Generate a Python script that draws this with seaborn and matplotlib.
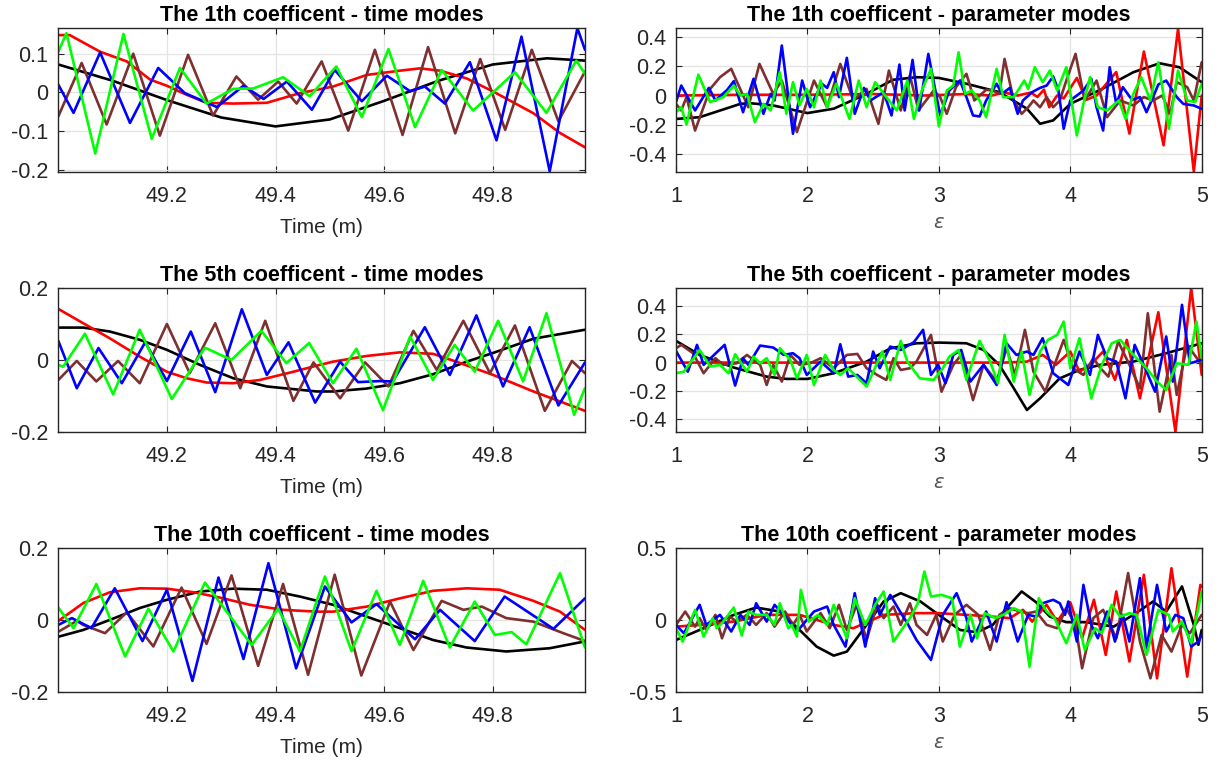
import matplotlib
matplotlib.use("Agg")
import matplotlib.pyplot as plt
import seaborn as sns
import pandas as pd
import numpy as np

# ---------------- 1th coefficient, time modes ----------------
c1t_black_x = [49.0, 49.1, 49.2, 49.3, 49.4, 49.5, 49.6, 49.7, 49.8, 49.9, 49.97]
c1t_black_y = [0.072, 0.03, -0.02, -0.065, -0.088, -0.07, -0.022, 0.03, 0.072, 0.088, 0.082]
c1t_red_x = [49.0, 49.021, 49.077, 49.126, 49.169, 49.2, 49.236, 49.273, 49.322, 49.384, 49.445,
             49.506, 49.568, 49.629, 49.666, 49.703, 49.752, 49.801, 49.875, 49.924, 49.97]
c1t_red_y = [0.148, 0.148, 0.105, 0.08, 0.033, 0.017, -0.006, -0.027, -0.029, -0.027, -0.002,
             0.015, 0.045, 0.056, 0.062, 0.056, 0.036, 0.002, -0.054, -0.105, -0.142]
c1t_blue_x = [49.0, 49.028, 49.077, 49.132, 49.184, 49.233, 49.292, 49.341, 49.378, 49.421, 49.467,
              49.509, 49.559, 49.605, 49.648, 49.675, 49.712, 49.758, 49.807, 49.853, 49.905, 49.956, 49.97]
c1t_blue_y = [0.02, -0.053, 0.103, -0.079, 0.063, -0.002, -0.038, 0.017, -0.017, 0.028, -0.045,
              0.058, -0.023, 0.043, 0.003, 0.015, -0.029, 0.078, -0.124, 0.144, -0.204, 0.166, 0.11]
c1t_brown_x = [49.0, 49.043, 49.089, 49.138, 49.187, 49.239, 49.285, 49.328, 49.368, 49.405, 49.439,
               49.485, 49.534, 49.583, 49.634, 49.681, 49.731, 49.777, 49.823, 49.872, 49.921, 49.97]
c1t_brown_y = [-0.062, 0.076, -0.083, 0.1, -0.112, 0.097, -0.06, 0.041, -0.019, 0.028, -0.029,
               0.08, -0.099, 0.11, -0.11, 0.117, -0.106, 0.086, -0.097, 0.11, -0.075, 0.054]
c1t_green_x = [49.0, 49.015, 49.068, 49.12, 49.172, 49.224, 49.273, 49.322, 49.359, 49.414, 49.463,
               49.512, 49.559, 49.608, 49.657, 49.706, 49.764, 49.841, 49.899, 49.954, 49.97]
c1t_green_y = [0.105, 0.153, -0.158, 0.151, -0.12, 0.063, -0.029, 0.009, 0.01, 0.039, -0.01,
               0.067, -0.064, 0.112, -0.09, 0.058, -0.047, 0.052, -0.053, 0.082, 0.048]

# ---------------- 1th coefficient, parameter modes ----------------
c1p_black_x = [1.0, 1.18, 1.49, 1.56, 1.74, 2.0, 2.2, 2.45, 2.65, 2.83, 3.0, 3.21, 3.46, 3.67,
               3.77, 3.87, 4.0, 4.23, 4.48, 4.68, 4.83, 5.0]
c1p_black_y = [-0.16, -0.148, -0.057, -0.052, -0.068, -0.12, -0.09, 0.011, 0.107, 0.125, 0.12, 0.08,
               0.023, -0.09, -0.193, -0.17, -0.057, 0.039, 0.159, 0.22, 0.193, 0.091]
c1p_red_x = [1.0, 1.5, 2.0, 2.5, 2.9, 3.2, 3.4, 3.5, 3.6, 3.7, 3.75, 3.8, 3.84, 3.9, 3.95,
             4.05, 4.12, 4.2, 4.35, 4.45, 4.56, 4.71, 4.82, 4.94, 5.0]
c1p_red_y = [0.0, 0.005, 0.005, 0.01, 0.0, 0.01, 0.0, 0.02, 0.0, 0.02, -0.01, 0.04, -0.08, 0.0, -0.02,
             0.12, -0.03, 0.0, 0.16, -0.26, 0.30, -0.34, 0.455, -0.52, 0.0]
c1p_blue_x = [1.0, 1.04, 1.145, 1.25, 1.30, 1.39, 1.44, 1.51, 1.59, 1.665, 1.72, 1.75, 1.805, 1.89,
              1.96, 2.02, 2.11, 2.15, 2.20, 2.24, 2.30, 2.36, 2.43, 2.48, 2.58, 2.64, 2.70, 2.74,
              2.80, 2.85, 2.87, 2.92, 3.01, 3.08, 3.16, 3.21, 3.26, 3.31, 3.36, 3.44, 3.48, 3.54,
              3.60, 3.64, 3.71, 3.77, 3.82, 3.87, 3.91, 3.95, 4.0, 4.1, 4.16, 4.2, 4.25, 4.3, 4.35,
              4.4, 4.47, 4.53, 4.58, 4.63, 4.67, 4.73, 4.81, 4.86, 4.94, 5.0]
c1p_blue_y = [-0.045, 0.068, -0.102, 0.052, -0.034, 0.039, 0.098, -0.114, 0.114, -0.125, 0.011, -0.034,
              0.341, -0.261, 0.102, -0.08, 0.08, 0.052, 0.159, -0.011, 0.257, -0.125, 0.052, -0.034,
              0.023, -0.136, 0.211, -0.102, 0.243, -0.102, 0.011, 0.284, -0.136, 0.034, 0.102,
              -0.011, -0.136, -0.143, -0.034, 0.08, 0.011, 0.052, -0.125, -0.034, 0.023, 0.052,
              0.068, 0.13, 0.034, -0.227, -0.034, 0.034, 0.114, -0.08, -0.239, 0.193, -0.057,
              0.057, -0.03, -0.011, -0.114, -0.011, 0.075, 0.102, -0.011, -0.057, -0.068, -0.091]
c1p_brown_x = [1.0, 1.04, 1.08, 1.145, 1.26, 1.335, 1.42, 1.55, 1.635, 1.74, 1.805, 1.92, 2.05, 2.15,
               2.25, 2.35, 2.43, 2.45, 2.54, 2.62, 2.71, 2.78, 2.845, 2.96, 3.01, 3.06, 3.13, 3.21,
               3.27, 3.36, 3.41, 3.46, 3.5, 3.57, 3.63, 3.68, 3.72, 3.77, 3.82, 3.87, 3.92, 3.97,
               4.04, 4.11, 4.2, 4.28, 4.38, 4.48, 4.56, 4.63, 4.7, 4.76, 4.81, 4.89, 4.94, 5.0]
c1p_brown_y = [-0.057, -0.102, -0.011, -0.239, 0.045, 0.125, 0.182, -0.08, 0.216, 0.011, 0.102, -0.25,
               0.102, -0.08, 0.216, -0.034, 0.034, 0.045, -0.193, 0.17, -0.102, 0.136, -0.102,
               0.034, -0.011, -0.125, 0.057, 0.148, -0.034, 0.039, 0.034, 0.011, 0.25, -0.034,
               -0.125, -0.08, -0.034, -0.08, -0.011, -0.08, -0.034, 0.102, 0.284, -0.034, 0.102,
               -0.148, -0.034, -0.068, -0.011, -0.034, 0.0, -0.125, 0.091, 0.057, -0.034, 0.227]
c1p_green_x = [1.0, 1.04, 1.08, 1.17, 1.26, 1.36, 1.44, 1.49, 1.54, 1.6, 1.665, 1.72, 1.79, 1.84,
               1.89, 1.94, 1.995, 2.05, 2.1, 2.15, 2.22, 2.32, 2.39, 2.45, 2.515, 2.6, 2.68, 2.76,
               2.81, 2.87, 2.94, 3.0, 3.06, 3.11, 3.15, 3.2, 3.25, 3.31, 3.36, 3.44, 3.49, 3.57,
               3.65, 3.68, 3.73, 3.79, 3.845, 3.9, 3.97, 4.05, 4.1, 4.15, 4.21, 4.28, 4.37, 4.42,
               4.48, 4.54, 4.61, 4.67, 4.75, 4.82, 4.89, 4.95, 5.0]
c1p_green_y = [-0.114, -0.08, -0.198, 0.143, -0.045, -0.011, 0.068, 0.0, 0.011, -0.182, -0.057, -0.102,
               0.159, -0.125, 0.091, -0.068, 0.045, -0.08, 0.102, -0.08, 0.08, -0.159, 0.102, -0.08,
               0.091, -0.011, -0.102, 0.102, -0.159, 0.034, 0.182, -0.211, 0.034, 0.068, 0.295,
               0.011, 0.034, -0.034, -0.148, 0.182, -0.011, -0.011, 0.102, 0.045, 0.193, 0.091,
               0.17, 0.034, 0.193, -0.273, -0.057, 0.125, -0.08, -0.102, -0.034, -0.159, 0.011,
               0.125, -0.034, 0.227, -0.227, 0.17, -0.034, -0.045, 0.08]

# ---------------- 5th coefficient, time modes ----------------
c5t_black_x = [49.0, 49.046, 49.095, 49.15, 49.2, 49.261, 49.322, 49.384, 49.476, 49.506, 49.567,
               49.629, 49.69, 49.752, 49.8, 49.875, 49.97]
c5t_black_y = [0.09, 0.09, 0.079, 0.056, 0.028, -0.014, -0.051, -0.074, -0.088, -0.088, -0.08,
               -0.065, -0.04, -0.005, 0.019, 0.059, 0.084]
c5t_red_x = [49.0, 49.046, 49.095, 49.15, 49.2, 49.236, 49.273, 49.322, 49.371, 49.433, 49.476,
             49.506, 49.568, 49.629, 49.69, 49.733, 49.801, 49.875, 49.97]
c5t_red_y = [0.142, 0.102, 0.06, 0.009, -0.033, -0.051, -0.063, -0.065, -0.056, -0.033, -0.016,
             -0.005, 0.011, 0.021, 0.017, -0.005, -0.042, -0.088, -0.142]
c5t_blue_x = [49.0, 49.034, 49.074, 49.117, 49.16, 49.2, 49.244, 49.289, 49.338, 49.384, 49.424,
              49.473, 49.519, 49.552, 49.592, 49.616, 49.675, 49.721, 49.77, 49.819, 49.868,
              49.921, 49.97]
c5t_blue_y = [0.053, -0.079, 0.033, -0.065, 0.049, -0.059, 0.079, -0.09, 0.141, -0.042, 0.049,
              -0.119, -0.005, -0.062, -0.059, -0.06, 0.091, -0.042, 0.124, -0.074, 0.091, -0.127, -0.007]
c5t_brown_x = [49.0, 49.034, 49.07, 49.11, 49.15, 49.2, 49.242, 49.289, 49.335, 49.381, 49.433,
               49.47, 49.519, 49.565, 49.608, 49.654, 49.697, 49.746, 49.795, 49.841, 49.896,
               49.946, 49.97]
c5t_brown_y = [-0.056, -0.003, -0.06, -0.003, -0.065, 0.1, -0.037, 0.102, -0.079, 0.109, -0.114,
               -0.007, -0.107, -0.007, -0.074, 0.081, -0.028, 0.109, -0.037, 0.096, -0.142, -0.003, -0.037]
c5t_green_x = [49.0, 49.009, 49.049, 49.101, 49.15, 49.209, 49.27, 49.319, 49.374, 49.42, 49.462,
               49.506, 49.549, 49.598, 49.648, 49.69, 49.73, 49.767, 49.81, 49.856, 49.899,
               49.95, 49.97]
c5t_green_y = [-0.014, -0.019, 0.073, -0.096, 0.084, -0.109, 0.034, 0.0, 0.081, -0.009, 0.047,
               -0.065, 0.031, -0.14, 0.065, -0.056, 0.042, -0.033, 0.109, -0.06, 0.13, -0.153, -0.079]

# ---------------- 5th coefficient, parameter modes ----------------
c5p_black_x = [1.0, 1.18, 1.44, 1.69, 1.84, 2.0, 2.2, 2.45, 2.63, 2.83, 3.0, 3.21, 3.34, 3.46,
               3.57, 3.67, 3.77, 3.92, 4.07, 4.23, 4.48, 4.73, 5.0]
c5p_black_y = [0.153, 0.054, -0.035, -0.099, -0.115, -0.115, -0.075, 0.007, 0.1, 0.136, 0.141, 0.136,
               0.089, -0.016, -0.181, -0.334, -0.252, -0.111, -0.052, -0.016, 0.007, 0.066, 0.136]
c5p_red_x = [1.0, 2.0, 3.0, 3.5, 3.67, 3.79, 3.89, 4.0, 4.07, 4.17, 4.25, 4.34, 4.43, 4.53, 4.67,
             4.8, 4.92, 5.0]
c5p_red_y = [0.0, 0.0, 0.0, 0.0, 0.007, 0.054, -0.016, 0.078, -0.064, 0.0, 0.078, -0.122, 0.16,
             -0.252, 0.355, -0.487, 0.525, -0.087]
c5p_blue_x = [1.0, 1.09, 1.16, 1.21, 1.37, 1.45, 1.51, 1.55, 1.64, 1.74, 1.82, 1.89, 1.94, 1.995,
              2.1, 2.2, 2.25, 2.31, 2.38, 2.45, 2.5, 2.55, 2.63, 2.71, 2.81, 2.88, 2.94, 2.995,
              3.05, 3.11, 3.17, 3.24, 3.34, 3.44, 3.515, 3.59, 3.67, 3.72, 3.79, 3.87, 3.985,
              4.07, 4.15, 4.21, 4.28, 4.35, 4.42, 4.49, 4.57, 4.645, 4.73, 4.78, 4.85, 4.91, 5.0]
c5p_blue_y = [0.082, -0.064, 0.125, -0.016, 0.125, -0.162, 0.031, -0.016, 0.12, 0.106, 0.054, 0.066,
              0.031, -0.087, 0.007, -0.075, 0.129, -0.099, -0.087, -0.146, 0.078, -0.04, 0.113,
              0.089, 0.144, 0.231, -0.087, -0.016, -0.146, 0.054, 0.089, -0.134, -0.016, -0.158,
              0.136, 0.054, 0.078, 0.054, 0.172, -0.075, -0.158, 0.078, -0.087, 0.195, 0.031,
              0.007, -0.252, 0.125, -0.04, -0.205, 0.184, -0.134, 0.407, -0.005, 0.019]
c5p_brown_x = [1.0, 1.04, 1.13, 1.21, 1.3, 1.36, 1.46, 1.54, 1.64, 1.69, 1.74, 1.805, 1.87, 1.94,
               2.02, 2.1, 2.2, 2.3, 2.38, 2.45, 2.53, 2.6, 2.655, 2.71, 2.78, 2.83, 2.94, 3.02,
               3.11, 3.17, 3.26, 3.34, 3.44, 3.515, 3.58, 3.655, 3.72, 3.81, 3.88, 3.95, 4.02,
               4.1, 4.175, 4.23, 4.29, 4.365, 4.45, 4.53, 4.59, 4.68, 4.77, 4.81, 4.89, 5.0]
c5p_brown_y = [0.101, 0.125, 0.066, -0.075, 0.031, -0.016, -0.005, 0.054, -0.016, -0.158, -0.016,
               -0.134, 0.054, -0.016, -0.005, 0.031, -0.04, 0.054, 0.061, -0.04, -0.087, -0.122,
               0.031, -0.052, -0.04, 0.007, 0.195, -0.205, -0.016, 0.054, -0.264, -0.016, -0.134,
               0.101, -0.087, 0.231, -0.064, -0.205, -0.016, 0.16, -0.04, -0.087, 0.031, -0.04,
               -0.099, 0.148, -0.016, -0.181, 0.348, -0.346, 0.054, -0.228, 0.125, -0.016]
c5p_green_x = [1.0, 1.06, 1.18, 1.26, 1.335, 1.4, 1.45, 1.54, 1.59, 1.64, 1.69, 1.75, 1.79, 1.87,
               1.92, 1.995, 2.05, 2.135, 2.2, 2.25, 2.31, 2.45, 2.57, 2.63, 2.71, 2.76, 2.855,
               2.96, 3.03, 3.08, 3.15, 3.21, 3.31, 3.39, 3.45, 3.5, 3.57, 3.63, 3.69, 3.77, 3.83,
               3.9, 3.95, 4.0, 4.07, 4.16, 4.24, 4.315, 4.38, 4.48, 4.58, 4.66, 4.73, 4.81, 4.9,
               4.96, 5.0]
c5p_green_y = [-0.075, -0.064, 0.089, -0.028, -0.016, -0.075, 0.059, -0.064, 0.042, -0.005, 0.031,
               -0.087, 0.101, 0.019, -0.111, 0.054, -0.158, 0.054, -0.052, -0.087, -0.04, -0.169,
               0.078, -0.122, 0.153, 0.007, -0.111, -0.122, -0.04, 0.042, 0.089, -0.122, 0.153,
               0.007, -0.146, 0.195, -0.134, 0.078, -0.228, 0.078, 0.16, 0.195, 0.289, -0.04,
               0.172, -0.252, -0.016, 0.136, 0.16, 0.054, -0.04, -0.134, -0.193, -0.005, -0.016,
               0.289, 0.031]

# ---------------- 10th coefficient, time modes ----------------
c10t_black_x = [49.0, 49.046, 49.095, 49.15, 49.2, 49.261, 49.322, 49.384, 49.445, 49.506, 49.568,
                49.629, 49.69, 49.752, 49.825, 49.905, 49.97]
c10t_black_y = [-0.047, -0.028, 0.0, 0.033, 0.056, 0.079, 0.087, 0.084, 0.065, 0.042, 0.009,
                -0.023, -0.056, -0.077, -0.088, -0.079, -0.06]
c10t_red_x = [49.0, 49.046, 49.095, 49.15, 49.2, 49.249, 49.298, 49.353, 49.414, 49.476, 49.506,
              49.568, 49.629, 49.69, 49.752, 49.813, 49.875, 49.924, 49.97]
c10t_red_y = [-0.003, 0.047, 0.077, 0.088, 0.087, 0.077, 0.062, 0.042, 0.028, 0.023, 0.023,
              0.037, 0.06, 0.081, 0.088, 0.084, 0.053, 0.023, -0.028]
c10t_blue_x = [49.0, 49.025, 49.061, 49.104, 49.155, 49.2, 49.247, 49.295, 49.341, 49.387, 49.438,
               49.491, 49.54, 49.586, 49.657, 49.703, 49.767, 49.822, 49.912, 49.97]
c10t_blue_y = [-0.014, 0.005, -0.023, 0.088, -0.059, 0.084, -0.17, 0.118, -0.109, 0.158, -0.135,
               0.093, -0.007, 0.044, -0.054, 0.028, -0.059, 0.065, -0.025, 0.06]
c10t_brown_x = [49.0, 49.034, 49.046, 49.086, 49.126, 49.175, 49.227, 49.273, 49.319, 49.368,
                49.414, 49.46, 49.509, 49.558, 49.611, 49.654, 49.706, 49.746, 49.78, 49.825,
                49.875, 49.93, 49.97]
c10t_brown_y = [-0.033, -0.003, -0.014, -0.037, 0.021, -0.074, 0.09, -0.067, 0.124, -0.128, 0.1,
                -0.153, 0.126, -0.155, 0.051, -0.084, 0.053, 0.028, 0.037, 0.005, -0.005, -0.037, -0.059]
c10t_green_x = [49.0, 49.028, 49.07, 49.123, 49.166, 49.212, 49.27, 49.356, 49.405, 49.445, 49.491,
                49.54, 49.586, 49.629, 49.672, 49.721, 49.767, 49.804, 49.835, 49.862, 49.924, 49.97]
c10t_green_y = [0.034, -0.023, 0.1, -0.102, 0.031, -0.088, 0.104, -0.07, 0.031, -0.088, 0.121,
                -0.087, 0.081, -0.07, 0.109, -0.077, 0.051, -0.042, -0.034, -0.068, 0.13, -0.077]

# ---------------- 10th coefficient, parameter modes ----------------
c10p_black_x = [1.0, 1.18, 1.44, 1.61, 1.79, 1.94, 2.07, 2.2, 2.3, 2.45, 2.58, 2.71, 2.86, 3.0,
                3.16, 3.29, 3.41, 3.515, 3.63, 3.74, 3.845, 3.97, 4.12, 4.33, 4.48, 4.63, 4.73,
                4.85, 4.94, 4.975, 5.0]
c10p_black_y = [-0.14, -0.07, 0.035, 0.086, 0.058, -0.07, -0.186, -0.249, -0.221, -0.035, 0.128,
                0.186, 0.128, 0.035, -0.07, -0.086, -0.035, 0.081, 0.198, 0.123, 0.023, -0.016,
                -0.016, -0.047, 0.035, 0.128, 0.058, 0.233, -0.035, -0.174, -0.07]
c10p_red_x = [1.0, 1.18, 1.44, 1.69, 1.94, 2.2, 2.35, 2.58, 2.83, 3.0, 3.21, 3.41, 3.54, 3.64,
              3.71, 3.82, 3.9, 4.0, 4.09, 4.18, 4.27, 4.35, 4.45, 4.56, 4.66, 4.77, 4.89, 4.99, 5.0]
c10p_red_y = [-0.047, -0.035, -0.012, 0.035, 0.035, -0.035, -0.058, 0.035, 0.047, 0.047, 0.035,
              0.023, 0.012, 0.07, -0.012, 0.105, -0.012, 0.123, -0.128, 0.14, -0.244, 0.198, -0.29,
              0.314, -0.407, 0.36, -0.395, 0.244, 0.23]
c10p_blue_x = [1.0, 1.06, 1.18, 1.23, 1.3, 1.335, 1.42, 1.49, 1.56, 1.61, 1.69, 1.75, 1.83, 1.92,
               2.05, 2.15, 2.2, 2.29, 2.36, 2.44, 2.515, 2.55, 2.63, 2.72, 2.76, 2.83, 2.94, 3.03,
               3.135, 3.21, 3.25, 3.36, 3.44, 3.515, 3.6, 3.68, 3.74, 3.79, 3.87, 3.92, 3.96,
               3.985, 4.05, 4.1, 4.16, 4.21, 4.28, 4.34, 4.4, 4.45, 4.53, 4.58, 4.66, 4.73, 4.8,
               4.86, 4.92, 4.975, 5.0]
c10p_blue_y = [-0.035, -0.093, 0.105, -0.035, 0.012, 0.035, -0.081, 0.035, -0.035, 0.116, -0.012,
               0.105, 0.023, -0.081, 0.058, 0.093, -0.035, -0.186, 0.186, -0.186, 0.151, 0.035,
               0.174, 0.035, -0.023, -0.14, -0.279, 0.035, 0.186, 0.012, -0.151, 0.058, -0.151,
               0.123, -0.151, 0.035, 0.023, 0.116, 0.14, 0.116, 0.035, 0.128, -0.151, 0.244,
               -0.035, -0.128, 0.058, -0.151, 0.035, -0.151, 0.291, -0.198, 0.244, -0.081, 0.035,
               0.012, -0.186, -0.151, -0.105]
c10p_brown_x = [1.0, 1.07, 1.145, 1.18, 1.23, 1.3, 1.35, 1.41, 1.46, 1.54, 1.61, 1.69, 1.75, 1.83,
                1.89, 1.94, 1.995, 2.1, 2.17, 2.24, 2.3, 2.375, 2.45, 2.53, 2.58, 2.655, 2.71,
                2.78, 2.83, 2.91, 2.98, 3.03, 3.12, 3.21, 3.3, 3.39, 3.46, 3.54, 3.62, 3.68, 3.74,
                3.82, 3.9, 3.97, 4.04, 4.09, 4.175, 4.25, 4.35, 4.44, 4.53, 4.61, 4.695, 4.77,
                4.85, 4.91, 5.0]
c10p_brown_y = [-0.035, 0.058, -0.047, 0.012, -0.07, 0.035, -0.128, 0.023, -0.012, 0.035, -0.035,
                0.047, -0.047, 0.058, -0.035, 0.035, -0.081, 0.047, -0.058, 0.105, -0.07, 0.105,
                -0.14, 0.105, 0.012, 0.093, -0.035, 0.116, -0.035, -0.105, 0.035, -0.151, 0.035,
                0.105, 0.035, -0.209, 0.035, 0.081, 0.058, 0.047, 0.058, -0.035, -0.058, 0.081,
                -0.035, -0.337, 0.012, 0.07, -0.128, 0.326, -0.151, -0.407, -0.105, -0.221,
                -0.035, -0.093, 0.035]
c10p_green_x = [1.0, 1.05, 1.145, 1.21, 1.28, 1.31, 1.35, 1.44, 1.5, 1.55, 1.61, 1.69, 1.75, 1.79,
                1.855, 1.88, 1.92, 1.95, 2.01, 2.08, 2.15, 2.2, 2.3, 2.36, 2.44, 2.515, 2.58,
                2.655, 2.76, 2.78, 2.84, 2.89, 2.94, 3.02, 3.1, 3.16, 3.24, 3.29, 3.35, 3.43,
                3.49, 3.57, 3.63, 3.69, 3.76, 3.82, 3.88, 3.97, 4.05, 4.11, 4.19, 4.24, 4.315,
                4.38, 4.45, 4.505, 4.58, 4.67, 4.75, 4.78, 4.85, 4.92, 5.0]
c10p_green_y = [-0.058, -0.151, 0.07, -0.116, 0.012, -0.058, -0.023, 0.086, -0.109, 0.058, 0.035,
                0.035, -0.035, 0.116, -0.058, -0.035, -0.116, 0.209, -0.012, 0.035, -0.035, 0.105,
                -0.128, 0.151, -0.035, 0.105, 0.198, -0.151, -0.012, 0.012, 0.116, 0.337, 0.163,
                0.174, 0.151, -0.186, 0.035, -0.128, 0.047, 0.012, 0.035, 0.081, 0.058, -0.326,
                0.151, 0.058, 0.012, -0.163, 0.035, -0.209, -0.058, -0.093, 0.105, 0.023, 0.047,
                0.035, -0.244, 0.07, 0.035, -0.081, -0.012, -0.163, 0.198]

modes = ["black", "red", "brown", "blue", "green"]
palette = {"black": "#000000", "red": "#ff0000", "brown": "#7e2f2f",
           "blue": "#0000ff", "green": "#00ff00"}


def make_frame(series):
    parts = []
    for name, (xs, ys) in series.items():
        parts.append(pd.DataFrame({"x": xs, "y": ys, "mode": name}))
    return pd.concat(parts, ignore_index=True)


panels = [
    ("The 1th coefficent - time modes", "time",
     {"black": (c1t_black_x, c1t_black_y), "red": (c1t_red_x, c1t_red_y),
      "brown": (c1t_brown_x, c1t_brown_y), "blue": (c1t_blue_x, c1t_blue_y),
      "green": (c1t_green_x, c1t_green_y)},
     (-0.205, 0.166), [-0.2, -0.1, 0, 0.1], ["-0.2", "-0.1", "0", "0.1"]),
    ("The 1th coefficent - parameter modes", "param",
     {"black": (c1p_black_x, c1p_black_y), "red": (c1p_red_x, c1p_red_y),
      "brown": (c1p_brown_x, c1p_brown_y), "blue": (c1p_blue_x, c1p_blue_y),
      "green": (c1p_green_x, c1p_green_y)},
     (-0.52, 0.46), [-0.4, -0.2, 0, 0.2, 0.4], ["-0.4", "-0.2", "0", "0.2", "0.4"]),
    ("The 5th coefficent - time modes", "time",
     {"black": (c5t_black_x, c5t_black_y), "red": (c5t_red_x, c5t_red_y),
      "brown": (c5t_brown_x, c5t_brown_y), "blue": (c5t_blue_x, c5t_blue_y),
      "green": (c5t_green_x, c5t_green_y)},
     (-0.2, 0.2), [-0.2, 0, 0.2], ["-0.2", "0", "0.2"]),
    ("The 5th coefficent - parameter modes", "param",
     {"black": (c5p_black_x, c5p_black_y), "red": (c5p_red_x, c5p_red_y),
      "brown": (c5p_brown_x, c5p_brown_y), "blue": (c5p_blue_x, c5p_blue_y),
      "green": (c5p_green_x, c5p_green_y)},
     (-0.487, 0.525), [-0.4, -0.2, 0, 0.2, 0.4], ["-0.4", "-0.2", "0", "0.2", "0.4"]),
    ("The 10th coefficent - time modes", "time",
     {"black": (c10t_black_x, c10t_black_y), "red": (c10t_red_x, c10t_red_y),
      "brown": (c10t_brown_x, c10t_brown_y), "blue": (c10t_blue_x, c10t_blue_y),
      "green": (c10t_green_x, c10t_green_y)},
     (-0.2, 0.2), [-0.2, 0, 0.2], ["-0.2", "0", "0.2"]),
    ("The 10th coefficent - parameter modes", "param",
     {"black": (c10p_black_x, c10p_black_y), "red": (c10p_red_x, c10p_red_y),
      "brown": (c10p_brown_x, c10p_brown_y), "blue": (c10p_blue_x, c10p_blue_y),
      "green": (c10p_green_x, c10p_green_y)},
     (-0.5, 0.5), [-0.5, 0, 0.5], ["-0.5", "0", "0.5"]),
]

sns.set_theme(style="whitegrid")
plt.rcParams["font.family"] = ["Liberation Sans", "DejaVu Sans"]
plt.rcParams["mathtext.fontset"] = "dejavusans"

fig = plt.figure(figsize=(12.2, 7.62), dpi=100)
lefts = [0.0478, 0.5541]
widths = [0.4317, 0.4309]
bottoms = [0.7747, 0.4335, 0.0923]
height = 0.1884

for i, (title, kind, series, ylim, yt, ytl) in enumerate(panels):
    r, c = divmod(i, 2)
    ax = fig.add_axes([lefts[c], bottoms[r], widths[c], height])
    df = make_frame(series)
    sns.lineplot(data=df, x="x", y="y", hue="mode", hue_order=modes, palette=palette,
                 estimator=None, sort=False, linewidth=1.9, legend=False, ax=ax)
    for ln in ax.get_lines():
        ln.set_solid_joinstyle("round")
        ln.set_solid_capstyle("round")
    ax.set_ylim(*ylim)
    ax.set_yticks(yt)
    ax.set_yticklabels(ytl)
    if kind == "time":
        ax.set_xlim(49.0, 49.97)
        ax.set_xticks([49.2, 49.4, 49.6, 49.8])
        ax.set_xticklabels(["49.2", "49.4", "49.6", "49.8"])
        ax.set_xlabel("Time (m)", fontsize=15, color="#262626", labelpad=8)
    else:
        ax.set_xlim(1, 5)
        ax.set_xticks([1, 2, 3, 4, 5])
        ax.set_xticklabels(["1", "2", "3", "4", "5"])
        ax.set_xlabel(r"$\varepsilon$", fontsize=14, color="#555555", labelpad=6)
    ax.set_ylabel("")
    ax.set_title(title, fontsize=15.5, fontweight="bold", color="black", pad=5)
    ax.grid(True, color="#e3e3e3", linewidth=0.9)
    ax.set_facecolor("white")
    for s in ax.spines.values():
        s.set_visible(True)
        s.set_color("#262626")
        s.set_linewidth(1.0)
    ax.tick_params(direction="in", length=4, width=0.8, color="#262626",
                   labelsize=15.5, labelcolor="#262626", top=True, right=True,
                   bottom=True, left=True)
    ax.tick_params(axis="x", pad=10)
    ax.tick_params(axis="y", pad=7)

fig.savefig("out.png", dpi=100, facecolor="white")
